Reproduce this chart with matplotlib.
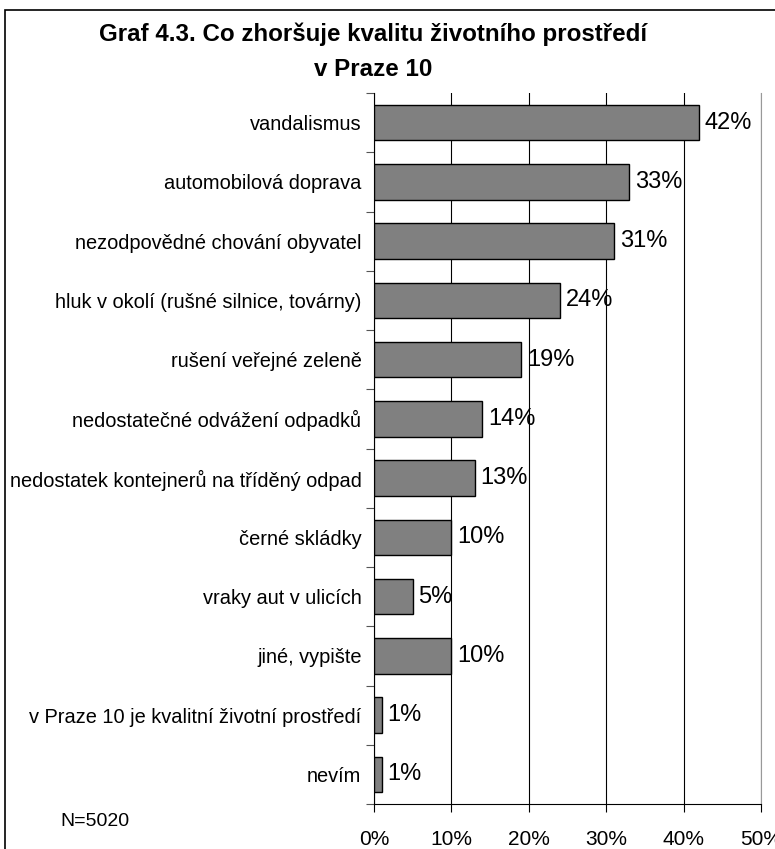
import numpy as np
import matplotlib
matplotlib.use('Agg')
from matplotlib import pyplot as plt
from matplotlib.patches import Rectangle

plt.rcParams['font.family'] = ['Liberation Sans', 'DejaVu Sans']

categories = ['vandalismus', 'automobilová doprava', 'nezodpovědné chování obyvatel',
              'hluk v okolí (rušné silnice, továrny)', 'rušení veřejné zeleně',
              'nedostatečné odvážení odpadků', 'nedostatek kontejnerů na tříděný odpad',
              'černé skládky', 'vraky aut v ulicích', 'jiné, vypište',
              'v Praze 10 je kvalitní životní prostředí', 'nevím']
values = [42, 33, 31, 24, 19, 14, 13, 10, 5, 10, 1, 1]
xticks = [0, 10, 20, 30, 40, 50]

W, H = 775, 849
fig = plt.figure(figsize=(W / 100, H / 100), dpi=100, facecolor='white')
ax = fig.add_axes([374 / W, 1 - 804 / H, (761 - 374) / W, (804 - 93) / H])

y = np.arange(len(categories))
ax.barh(y, values, height=0.6, color='#808080', edgecolor='black', linewidth=1, zorder=3)
for yi, v in zip(y, values):
    ax.text(v + 0.75, yi, '%d%%' % v, va='center', ha='left', fontsize=17, zorder=4)

ax.set_xlim(0, 50)
ax.set_ylim(len(categories) - 0.5, -0.5)
ax.set_xticks(xticks)
ax.set_xticklabels(['%d%%' % t for t in xticks], fontsize=15)
ax.tick_params(axis='x', direction='out', length=6, width=0.8, pad=13)
ax.set_yticks(y)
ax.set_yticklabels(categories, fontsize=14.4)
ax.tick_params(axis='y', which='major', length=0, pad=9)
ax.set_yticks(np.arange(-0.5, len(categories), 1), minor=True)
ax.tick_params(axis='y', which='minor', length=6, width=0.8, color='#555555', direction='out')
ax.xaxis.grid(True, color='black', linewidth=0.8, zorder=0)
ax.set_axisbelow(True)
ax.spines['top'].set_visible(False)
ax.spines['right'].set_color('#999999')
ax.spines['left'].set_color('black')
ax.spines['bottom'].set_color('black')

fig.text(373 / W, 1 - 34 / H, 'Graf 4.3. Co zhoršuje kvalitu životního prostředí',
         ha='center', va='center', fontsize=17.4, fontweight='bold')
fig.text(373 / W, 1 - 70 / H, 'v Praze 10', ha='center', va='center', fontsize=17.4, fontweight='bold')
fig.text(60 / W, 1 - 822 / H, 'N=5020', ha='left', va='center', fontsize=14)

fig.patches.append(Rectangle((5 / W, -0.05), 1.1, 1 - 10 / H + 0.05, transform=fig.transFigure,
                             fill=False, edgecolor='black', linewidth=1.2))

fig.savefig('out.png', dpi=100, facecolor='white')
